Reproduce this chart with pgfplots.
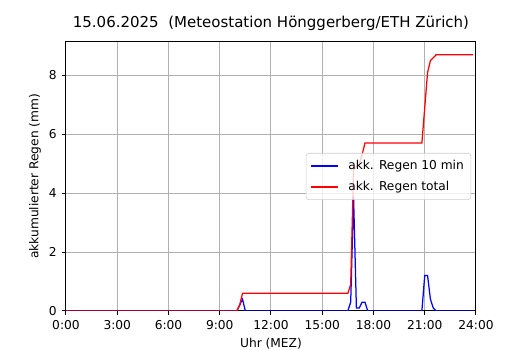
\documentclass[border=0pt]{standalone}
\usepackage{fontspec}
\setmainfont{DejaVu Sans}
\usepackage{pgfplots}
\pgfplotsset{compat=1.18}
\definecolor{gridgray}{HTML}{B0B0B0}
\definecolor{legframe}{HTML}{CCCCCC}
\begin{document}
\begin{tikzpicture}
\begin{axis}[
  scale only axis,
  width=295.2pt, height=193.7pt,
  xmin=0, xmax=24, ymin=0, ymax=9.135,
  xtick={0,3,6,9,12,15,18,21,24},
  xticklabels={0:00,3:00,6:00,9:00,12:00,15:00,18:00,21:00,24:00},
  ytick={0,2,4,6,8},
  xtick pos=bottom, ytick pos=left,
  tick align=outside,
  major tick length=3.1pt,
  tick style={black, line width=0.7pt},
  axis line style={line width=0.7pt},
  grid=major,
  major grid style={gridgray, line width=0.7pt},
  /pgf/number format/assume math mode=true,
  tick label style={font=\fontsize{8.8}{10.5}\selectfont},
  title={15.06.2025\ \ (Meteostation Hönggerberg/ETH Zürich)},
  title style={at={(axis description cs:0.5,1)}, anchor=base, yshift=4.5pt, inner sep=0pt, font=\fontsize{10.8}{13}\selectfont},
  xlabel={Uhr (MEZ)},
  xlabel style={at={(axis description cs:0.5,0)}, anchor=base, yshift=-26.3pt, inner sep=0pt, font=\fontsize{8.8}{10.5}\selectfont},
  ylabel={akkumulierter Regen (mm)},
  ylabel style={at={(axis description cs:-0.0756,0.5)}, anchor=center, inner sep=0pt, font=\fontsize{8.8}{10.5}\selectfont},
  legend style={at={(axis description cs:1,0.5)}, anchor=east, xshift=-3.5pt,
    draw=legframe, fill=white, fill opacity=0.8, text opacity=1,
    rounded corners=2pt, font=\fontsize{8.8}{10.5}\selectfont,
    inner xsep=3pt, inner ysep=3pt, row sep=3pt},
  legend cell align=left,
  legend image code/.code={\draw[#1] (0pt,0pt) -- (19.5pt,0pt); \path (24.5pt,0pt);},
]
\addplot[blue, line width=0.9pt] coordinates {
(0,0)(10,0)(10.1667,0.2)(10.3333,0.4)(10.5,0)(16.5,0)(16.6667,0.3)(16.8333,3.9)(17,0.1)(17.1667,0.1)(17.3333,0.3)(17.5,0.3)(17.6667,0)(20.8333,0)(21,1.2)(21.1667,1.2)(21.3333,0.4)(21.5,0.1)(21.6667,0)(23.8333,0)
};
\addlegendentry{akk. Regen 10 min}
\addplot[red, line width=0.9pt] coordinates {
(0,0)(10,0)(10.1667,0.2)(10.3333,0.6)(16.5,0.6)(16.6667,0.9)(16.8333,4.8)(17,4.9)(17.1667,5.0)(17.3333,5.3)(17.5,5.7)(20.8333,5.7)(21,6.9)(21.1667,8.1)(21.3333,8.5)(21.5,8.6)(21.6667,8.7)(23.8333,8.7)
};
\addlegendentry{akk. Regen total}
\end{axis}
\pgfresetboundingbox
\path ([shift={(-47.5pt,-28.1pt)}]current axis.south west) rectangle ([shift={(38.9pt,30.2pt)}]current axis.north east);
\end{tikzpicture}
\end{document}
